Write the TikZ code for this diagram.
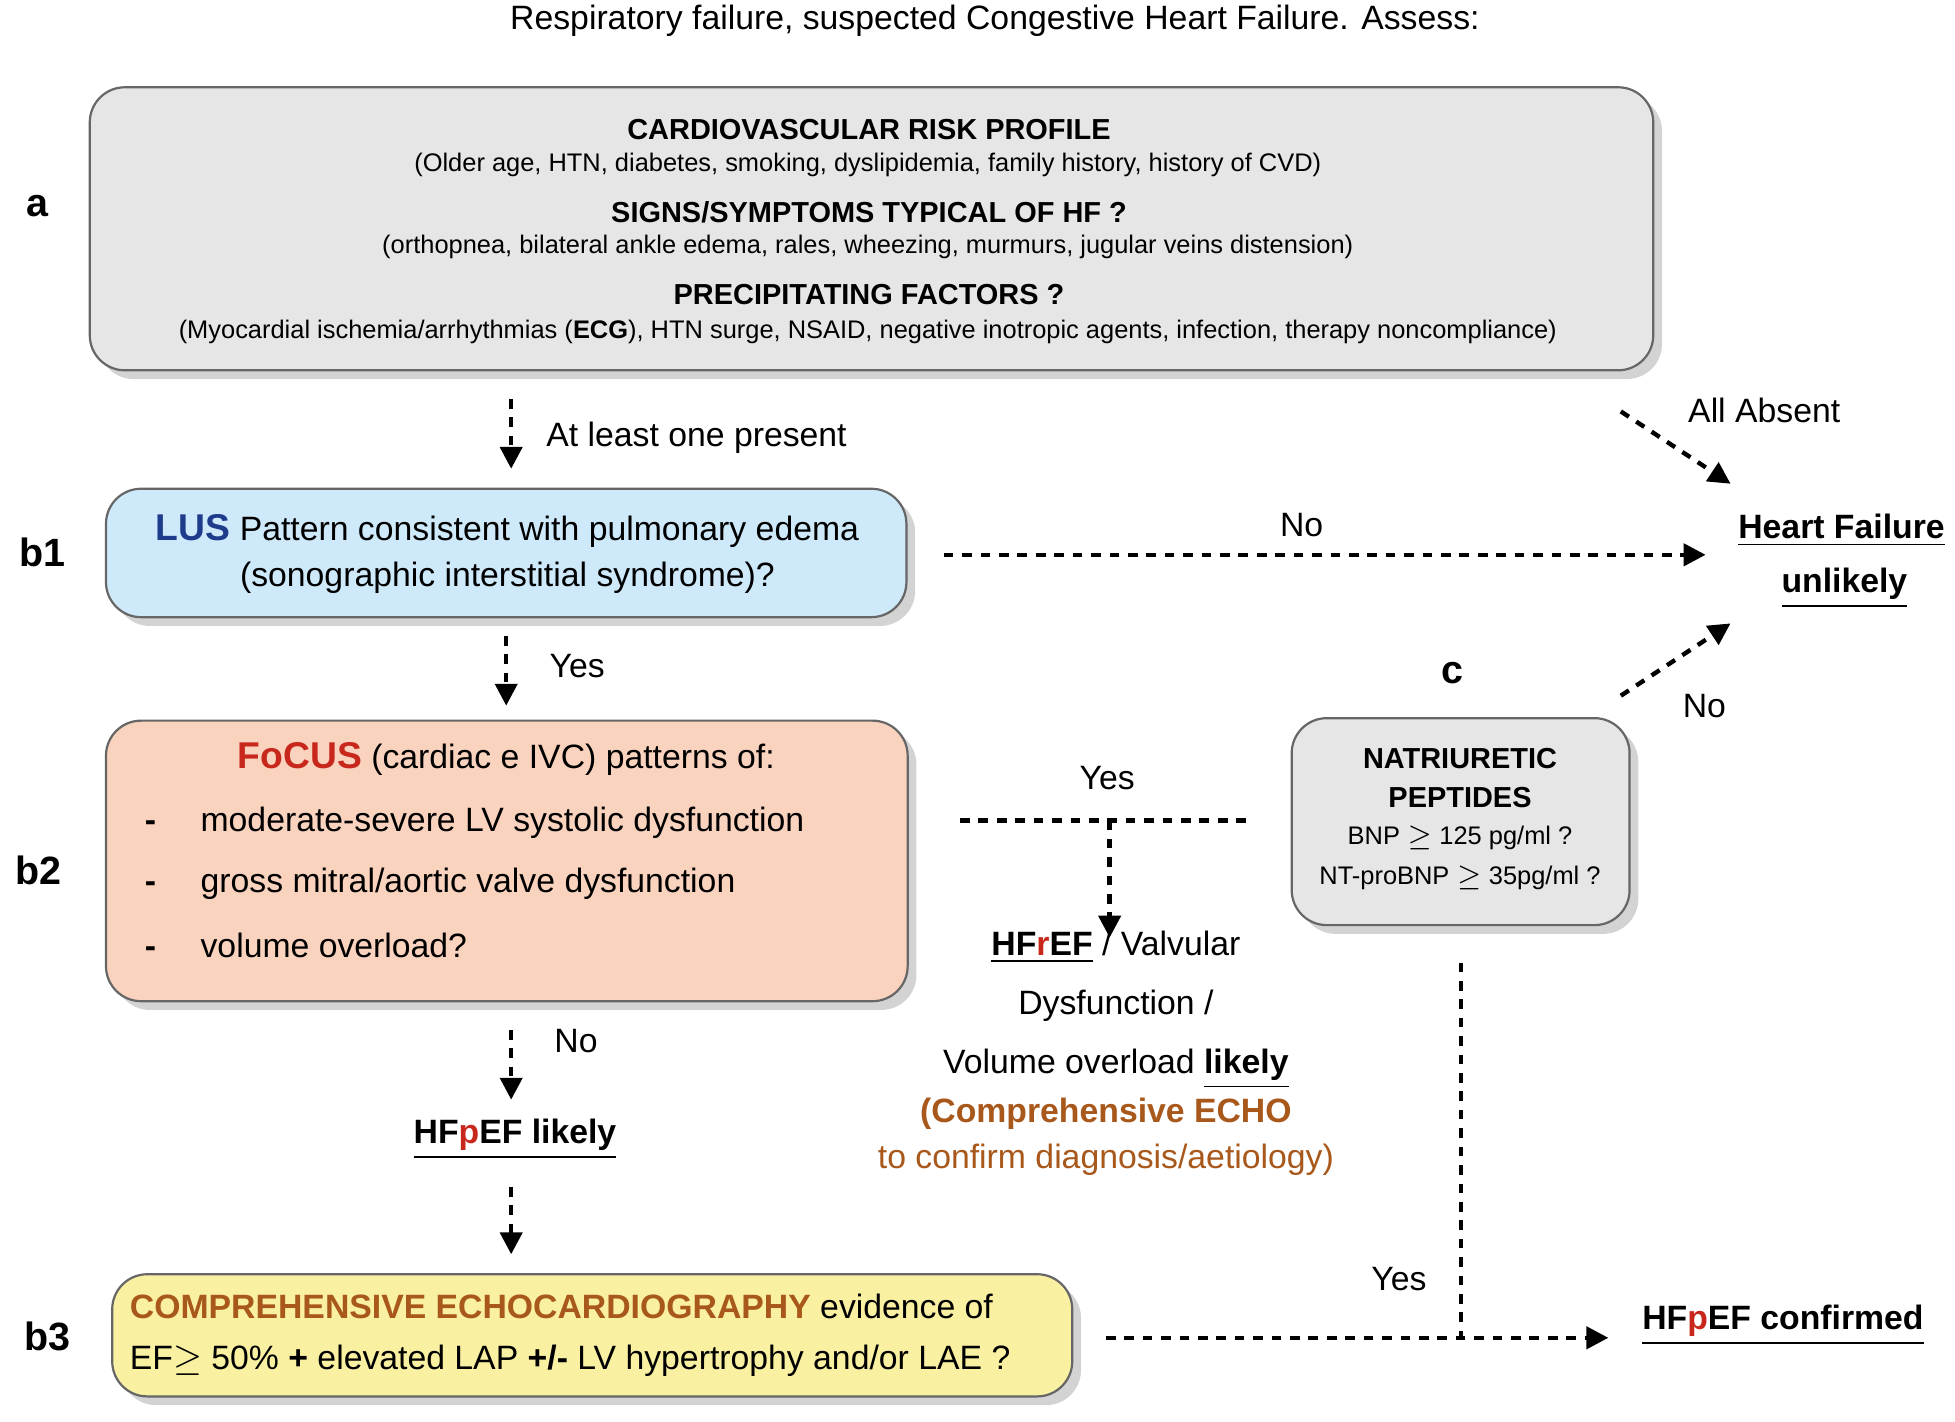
\documentclass[tikz,border=0pt]{standalone}
\usepackage{fontspec}
\setmainfont{Liberation Sans}
\usetikzlibrary{arrows.meta,shadows}
\definecolor{boxgray}{HTML}{E6E6E6}
\definecolor{boxblue}{HTML}{CDE9FA}
\definecolor{boxsalmon}{HTML}{FAD3BF}
\definecolor{boxyellow}{HTML}{FAF0A2}
\definecolor{lusblue}{HTML}{1F3C8C}
\definecolor{focred}{HTML}{C8281C}
\definecolor{brownt}{HTML}{A8581A}
\newcommand{\fbig}{\fontsize{7.7}{9.5}\selectfont}
\newcommand{\fhead}{\fontsize{6.6}{8}\selectfont\bfseries}
\newcommand{\fsm}{\fontsize{5.8}{7}\selectfont}
\begin{document}
\begin{tikzpicture}[x=0.01cm,y=-0.01cm,
  box/.style={draw=black!60,line width=0.5pt,rounded corners=8pt,drop shadow={shadow xshift=2pt,shadow yshift=-2pt,opacity=0.35}},
  da/.style={dashed,line width=1pt,dash pattern=on 2.2pt off 2pt,-{Triangle[length=5pt,width=5pt]}},
  dl/.style={dashed,line width=1pt,dash pattern=on 2.2pt off 2pt},
  lab/.style={font=\fontsize{9}{10}\selectfont\bfseries},
  t/.style={font=\fbig,inner sep=1pt}]
\useasboundingbox (0,0) rectangle (1568,1140);
\node[t] (title) at (798,17) {Respiratory failure, suspected Congestive Heart Failure. Assess:};
% box a
\draw[box,fill=boxgray] (72,70) rectangle (1326,297);
\node (abox) at (699,183) {};
\node[inner sep=0,font=\fhead] at (697,104) {CARDIOVASCULAR RISK PROFILE};
\node[inner sep=0,font=\fsm] at (696,132) {(Older age, HTN, diabetes, smoking, dyslipidemia, family history, history of CVD)};
\node[inner sep=0,font=\fhead] at (697,170) {SIGNS/SYMPTOMS TYPICAL OF HF ?};
\node[inner sep=0,font=\fsm] at (696,198) {(orthopnea, bilateral ankle edema, rales, wheezing, murmurs, jugular veins distension)};
\node[inner sep=0,font=\fhead] at (697,236) {PRECIPITATING FACTORS ?};
\node[inner sep=0,font=\fsm] at (696,266) {(Myocardial ischemia/arrhythmias (\textbf{ECG}), HTN surge, NSAID, negative inotropic agents, infection, therapy noncompliance)};
% labels
\node[lab] (la) at (30,165) {a};
\node[lab] (lb1) at (34,443) {b1};
\node[lab] (lb2) at (31,698) {b2};
\node[lab] (lb3) at (38,1072) {b3};
\node[lab] (lc) at (1165,540) {c};
% b1
\draw[box,fill=boxblue] (85,392) rectangle (727,495);
\node[t,align=center] (b1) at (407,444) {{\color{lusblue}\bfseries\fontsize{8.5}{10}\selectfont LUS} Pattern consistent with pulmonary edema\\[1pt](sonographic interstitial syndrome)?};
% b2
\draw[box,fill=boxsalmon] (85,578) rectangle (728,803);
\node[t] (b2) at (406,609) {{\color{focred}\bfseries\fontsize{8.5}{10}\selectfont FoCUS} (cardiac e IVC) patterns of:};
\node[t,anchor=west] at (112,660) {\textbf{-}\hspace{8pt} moderate-severe LV systolic dysfunction};
\node[t,anchor=west] at (112,709) {\textbf{-}\hspace{8pt} gross mitral/aortic valve dysfunction};
\node[t,anchor=west] at (112,758) {\textbf{-}\hspace{8pt} volume overload?};
% b3
\draw[box,fill=boxyellow] (90,1022) rectangle (860,1120);
\node[t,anchor=west,align=left] (b3) at (100,1071) {{\color{brownt}\bfseries COMPREHENSIVE ECHOCARDIOGRAPHY} evidence of\\[2pt]EF$\geq$ 50\% \textbf{+} elevated LAP \textbf{+/-} LV hypertrophy and/or LAE ?};
% NP box
\draw[box,fill=boxgray] (1036,576) rectangle (1307,742);
\node[align=center,font=\fhead,inner sep=0] (np) at (1171,624) {NATRIURETIC\\[1pt]PEPTIDES};
\node[align=center,font=\fsm,inner sep=0] (npv) at (1171,688) {BNP $\geq$ 125 pg/ml ?\\[2pt]NT-proBNP $\geq$ 35pg/ml ?};
% outcome texts
\node[t,font=\fbig\bfseries,align=center] (hfu) at (1477,450) {\underline{Heart Failure}\\[3pt]\,\underline{unlikely}};
\node[t,align=center] (hfr) at (895,810) {\underline{\textbf{HF{\color{focred}r}EF}} / Valvular\\[4pt]Dysfunction /\\[4pt]Volume overload \underline{\textbf{likely}}};
\node[t,align=center,text=brownt] (echo) at (887,912) {\textbf{(Comprehensive ECHO}\\[1pt]to confirm diagnosis/aetiology)};
\node[t,font=\fbig\bfseries] (hfpl) at (413,914) {\underline{HF{\color{focred}p}EF likely}};
\node[t,font=\fbig\bfseries] (hfpc) at (1430,1063) {\underline{HF{\color{focred}p}EF confirmed}};
% coordinates
\coordinate (a1) at (410,320); \coordinate (a2) at (410,376);
\coordinate (c1) at (406,510); \coordinate (c2) at (406,566);
\coordinate (d1) at (410,826); \coordinate (d2) at (410,882);
\coordinate (e1) at (410,952); \coordinate (e2) at (410,1006);
\coordinate (n1) at (757,445); \coordinate (n2) at (1368,445);
\coordinate (aa1) at (1300,330); \coordinate (aa2) at (1388,388);
\coordinate (nn1) at (1300,558); \coordinate (nn2) at (1388,500);
\coordinate (y1) at (770,658); \coordinate (y2) at (1005,658);
\coordinate (ym) at (890,658); \coordinate (ym2) at (890,752);
\coordinate (h1) at (887,1073); \coordinate (h2) at (1290,1073);
\coordinate (v1) at (1172,772); \coordinate (v2) at (1172,1073);
% connectors
\draw[da] (a1) -- (a2);
\draw[da] (c1) -- (c2);
\draw[da] (d1) -- (d2);
\draw[da] (e1) -- (e2);
\draw[da] (n1) -- (n2);
\draw[da] (aa1) -- (aa2);
\draw[da] (nn1) -- (nn2);
\draw[dl] (y1) -- (y2);
\draw[da] (ym) -- (ym2);
\draw[da] (h1) -- (h2);
\draw[dl] (v1) -- (v2);
% connector labels
\node[t,anchor=west] at (434,351) {At least one present};
\node[t] at (1044,421) {No};
\node[t] at (1415,329) {All Absent};
\node[t] at (463,534) {Yes};
\node[t] at (888,624) {Yes};
\node[t] at (1367,566) {No};
\node[t] at (462,835) {No};
\node[t] at (1122,1026) {Yes};
\end{tikzpicture}
\end{document}
